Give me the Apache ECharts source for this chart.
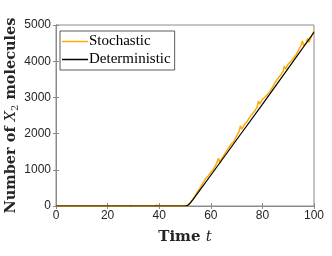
<!DOCTYPE html>
<html><head><meta charset="utf-8">
<script src="https://cdn.jsdelivr.net/npm/echarts@6/dist/echarts.min.js"></script>
<style>html,body{margin:0;padding:0;background:#fff}#c{width:332px;height:256px}</style>
</head><body><div id="c"></div>
<script>
var seriesNames = ['Stochastic', 'Deterministic'];
var xTicks = [0, 20, 40, 60, 80, 100];
var yTicks = [0, 1000, 2000, 3000, 4000, 5000];
var stochT = [0, 10, 20, 28, 29, 30, 38, 39, 40, 41, 50, 51, 52, 53, 54, 55, 56, 57, 58, 59, 60, 61, 62, 63, 63.5, 64, 65, 66, 67, 68, 69, 70, 71, 71.5, 72, 73, 74, 75, 76, 77, 78, 78.5, 79, 80, 81, 82, 83, 84, 85, 86, 87, 88, 88.5, 89, 90, 91, 92, 93, 94, 95, 95.5, 96, 97, 97.5, 98, 99, 100];
var stochV = [0, 0, 0, 0, 15, 0, 0, 20, 10, 0, 0, 10, 90, 180, 290, 410, 520, 640, 760, 830, 930, 1010, 1140, 1320, 1180, 1280, 1400, 1510, 1610, 1720, 1790, 1930, 2060, 2220, 2120, 2250, 2330, 2440, 2540, 2620, 2740, 2900, 2810, 2950, 3010, 3090, 3180, 3290, 3420, 3520, 3610, 3720, 3870, 3780, 3920, 3990, 4080, 4170, 4300, 4440, 4560, 4430, 4500, 4630, 4520, 4680, 4850];
var detT = [0, 50, 51, 52, 53, 54, 55, 60, 70, 80, 90, 100];
var detV = [0, 0, 15, 80, 170, 265, 360, 850, 1830, 2810, 3800, 4800];

function pairs(t, v) { return t.map(function (x, i) { return [x, v[i]]; }); }

var chart = echarts.init(document.getElementById('c'));
var axisCol = '#8c8c8c';
var lab = { color: '#262626', fontFamily: 'Liberation Sans', fontSize: 12 };
var serifB = 'DejaVu Serif';
chart.setOption({
  animation: false,
  grid: { left: 56, right: 18, top: 25, bottom: 50, show: true, borderColor: axisCol, borderWidth: 1, containLabel: false, outerBoundsMode: 'none' },
  legend: {
    orient: 'vertical', left: 60, top: 31, padding: [3, 4, 3, 2], itemGap: 3,
    itemWidth: 26, itemHeight: 1.5, icon: 'rect',
    borderColor: '#333', borderWidth: 0.8, backgroundColor: '#fff', borderRadius: 0,
    textStyle: { fontFamily: 'Liberation Serif', fontSize: 15, color: '#000', padding: [0, 0, 0, -4] },
    data: seriesNames
  },
  xAxis: [{
    type: 'value', min: 0, max: 100, interval: 20,
    axisLine: { show: true, lineStyle: { color: axisCol } },
    axisTick: { inside: true, length: 3, lineStyle: { color: axisCol } },
    splitLine: { show: false },
    axisLabel: Object.assign({ margin: 4, formatter: function (v) { return xTicks.indexOf(v) >= 0 ? String(v) : ''; } }, lab),
    name: '{b|Time }{i|t}', nameLocation: 'middle', nameGap: 24, nameMoveOverlap: false,
    nameTextStyle: { rich: {
      b: { fontFamily: serifB, fontWeight: 'bold', fontSize: 15, color: '#262626' },
      i: { fontFamily: serifB, fontStyle: 'italic', fontSize: 15, color: '#262626' } } }
  }, {
    type: 'value', position: 'top', min: 0, max: 100, interval: 20,
    axisLine: { show: true, lineStyle: { color: axisCol } },
    axisTick: { inside: true, length: 3, lineStyle: { color: axisCol } },
    axisLabel: { show: false }, splitLine: { show: false }
  }],
  yAxis: [{
    type: 'value', min: 0, max: 5000, interval: 1000,
    axisLine: { show: true, lineStyle: { color: axisCol } },
    axisTick: { inside: true, length: 3, lineStyle: { color: axisCol } },
    splitLine: { show: false },
    axisLabel: Object.assign({ margin: 5, formatter: function (v) { return yTicks.indexOf(v) >= 0 ? String(v) : ''; } }, lab),
    name: '{b|Number of }{i|X}{s|2}{b| molecules}', nameLocation: 'middle', nameGap: 36, nameMoveOverlap: false,
    nameTextStyle: { rich: {
      b: { fontFamily: serifB, fontWeight: 'bold', fontSize: 14.5, color: '#262626' },
      i: { fontFamily: serifB, fontStyle: 'italic', fontSize: 14.5, color: '#262626' },
      s: { fontFamily: serifB, fontSize: 10, color: '#262626', verticalAlign: 'bottom', padding: [7, 0, 0, 0] } } }
  }, {
    type: 'value', position: 'right', min: 0, max: 5000, interval: 1000,
    axisLine: { show: true, lineStyle: { color: axisCol } },
    axisTick: { inside: true, length: 3, lineStyle: { color: axisCol } },
    axisLabel: { show: false }, splitLine: { show: false }
  }],
  series: [{
    name: seriesNames[0], type: 'line', data: pairs(stochT, stochV), showSymbol: false,
    lineStyle: { color: '#FFAA00', width: 1.5 }, itemStyle: { color: '#FFAA00' }
  }, {
    name: seriesNames[1], type: 'line', data: pairs(detT, detV), showSymbol: false,
    lineStyle: { color: '#000', width: 1.2 }, itemStyle: { color: '#000' }
  }]
});
</script></body></html>
